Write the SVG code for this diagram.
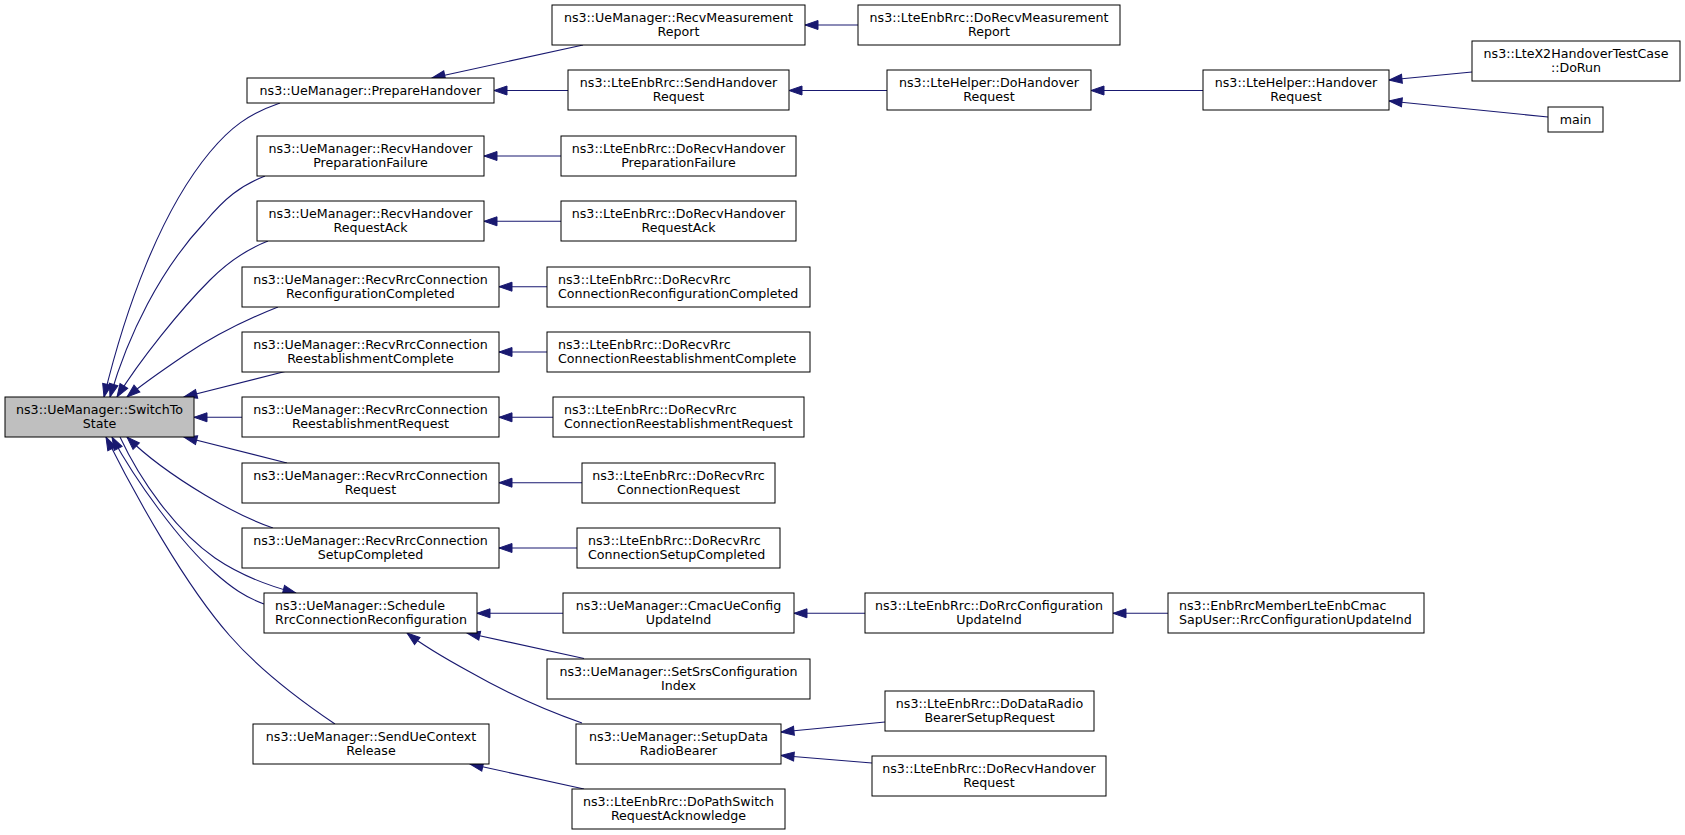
<svg xmlns="http://www.w3.org/2000/svg" width="1685" height="835" viewBox="0 0 1685 835">
<defs>
<style>
.node rect{fill:#fff;stroke:#000;stroke-width:1}
.node rect.hl{fill:#bfbfbf}
.node text{font-family:"DejaVu Sans",sans-serif;font-size:12.65px;fill:#000}
.c{text-anchor:middle}
.l{text-anchor:start}
.edge path{fill:none;stroke:#191970;stroke-width:1.1;marker-end:url(#ah)}
</style>
<marker id="ah" markerUnits="userSpaceOnUse" markerWidth="15" markerHeight="11" refX="14" refY="5.5" orient="auto" overflow="visible">
<path d="M1,1 L14,5.5 L1,10 Z" fill="#191970" stroke="#191970" stroke-width="1"/>
</marker>
</defs>
<rect x="0" y="0" width="1685" height="835" fill="#fff"/>
<g id="edges" class="edge">
<path d="M583,45 L432,78"/>
<path d="M568,90.5 L494,90.5"/>
<path d="M858,25 L805,25"/>
<path d="M887,90.5 L789,90.5"/>
<path d="M1203,90.5 L1091,90.5"/>
<path d="M1472,72 L1389,80"/>
<path d="M1548,117 L1389,101"/>
<path d="M561,156 L484,156"/>
<path d="M561,221.3 L484,221.3"/>
<path d="M547,286.7 L499,286.7"/>
<path d="M547,352 L499,352"/>
<path d="M553,417.3 L499,417.3"/>
<path d="M582,482.7 L499,482.7"/>
<path d="M577,548 L499,548"/>
<path d="M563,613.3 L477,613.3"/>
<path d="M584,658.5 L467,633"/>
<path d="M582,723 C545,710 505,692 470,672 C448,660 425,647 407,633"/>
<path d="M885,722 L781,732"/>
<path d="M872,763 L781,755.5"/>
<path d="M865,613.3 L794,613.3"/>
<path d="M1168,613.3 L1113,613.3"/>
<path d="M584,789 L470,764"/>
<path d="M242,417.3 L194,417.3"/>
<path d="M280,103 C248,114 230,128 210,152 C160,212 125,310 104,397"/>
<path d="M265,176 C240,186 225,198 205,222 C160,270 128,335 110,397"/>
<path d="M268,241 C245,250 228,262 210,280 C180,310 140,360 117,397"/>
<path d="M278,307 C245,320 215,335 185,355 C160,372 140,386 127,397"/>
<path d="M287,371 L184,397"/>
<path d="M287,463 L184,437"/>
<path d="M273,528 C250,520 230,510 205,495 C175,477 150,460 127,437"/>
<path d="M264,604 C245,597 232,588 215,573 C180,542 135,480 112,437"/>
<path d="M120,437 C140,480 175,530 215,558 C240,575 265,585 296,593"/>
<path d="M335,724 C295,697 258,668 230,636 C185,585 135,495 106,437"/>
</g>
<g id="n_switch" class="node"><rect class="hl" x="5" y="397" width="189" height="40"/><text class="c" x="99.5" y="414">ns3::UeManager::SwitchTo</text><text class="c" x="99.5" y="428.3">State</text></g>
<g id="n_prep" class="node"><rect x="247" y="78" width="247" height="25"/><text class="c" x="370.5" y="94.6">ns3::UeManager::PrepareHandover</text></g>
<g id="n_prepfail" class="node"><rect x="257" y="136" width="227" height="40"/><text class="c" x="370.5" y="152.8">ns3::UeManager::RecvHandover</text><text class="c" x="370.5" y="167">PreparationFailure</text></g>
<g id="n_reqack" class="node"><rect x="257" y="201" width="227" height="40"/><text class="c" x="370.5" y="218">ns3::UeManager::RecvHandover</text><text class="c" x="370.5" y="232.3">RequestAck</text></g>
<g id="n_reconf" class="node"><rect x="242" y="267" width="257" height="40"/><text class="c" x="370.5" y="283.5">ns3::UeManager::RecvRrcConnection</text><text class="c" x="370.5" y="297.7">ReconfigurationCompleted</text></g>
<g id="n_reestc" class="node"><rect x="242" y="332" width="257" height="40"/><text class="c" x="370.5" y="348.8">ns3::UeManager::RecvRrcConnection</text><text class="c" x="370.5" y="363">ReestablishmentComplete</text></g>
<g id="n_reestr" class="node"><rect x="242" y="397" width="257" height="40"/><text class="c" x="370.5" y="414">ns3::UeManager::RecvRrcConnection</text><text class="c" x="370.5" y="428.3">ReestablishmentRequest</text></g>
<g id="n_req" class="node"><rect x="242" y="463" width="257" height="40"/><text class="c" x="370.5" y="479.5">ns3::UeManager::RecvRrcConnection</text><text class="c" x="370.5" y="493.7">Request</text></g>
<g id="n_setup" class="node"><rect x="242" y="528" width="257" height="40"/><text class="c" x="370.5" y="544.8">ns3::UeManager::RecvRrcConnection</text><text class="c" x="370.5" y="559">SetupCompleted</text></g>
<g id="n_sched" class="node"><rect x="264" y="593" width="213" height="40"/><text class="l" x="275" y="610">ns3::UeManager::Schedule</text><text class="l" x="275" y="624.3">RrcConnectionReconfiguration</text></g>
<g id="n_sendue" class="node"><rect x="253" y="724" width="236" height="40"/><text class="c" x="371" y="740.8">ns3::UeManager::SendUeContext</text><text class="c" x="371" y="755">Release</text></g>
<g id="n_recvmeas" class="node"><rect x="552" y="5" width="253" height="40"/><text class="c" x="678.5" y="21.8">ns3::UeManager::RecvMeasurement</text><text class="c" x="678.5" y="36">Report</text></g>
<g id="n_sendho" class="node"><rect x="568" y="70" width="221" height="40"/><text class="c" x="678.5" y="87">ns3::LteEnbRrc::SendHandover</text><text class="c" x="678.5" y="101.3">Request</text></g>
<g id="n_dprepfail" class="node"><rect x="561" y="136" width="235" height="40"/><text class="c" x="678.5" y="152.8">ns3::LteEnbRrc::DoRecvHandover</text><text class="c" x="678.5" y="167">PreparationFailure</text></g>
<g id="n_dreqack" class="node"><rect x="561" y="201" width="235" height="40"/><text class="c" x="678.5" y="218">ns3::LteEnbRrc::DoRecvHandover</text><text class="c" x="678.5" y="232.3">RequestAck</text></g>
<g id="n_dreconf" class="node"><rect x="547" y="267" width="263" height="40"/><text class="l" x="558" y="283.5">ns3::LteEnbRrc::DoRecvRrc</text><text class="l" x="558" y="297.7">ConnectionReconfigurationCompleted</text></g>
<g id="n_dreestc" class="node"><rect x="547" y="332" width="263" height="40"/><text class="l" x="558" y="348.8">ns3::LteEnbRrc::DoRecvRrc</text><text class="l" x="558" y="363">ConnectionReestablishmentComplete</text></g>
<g id="n_dreestr" class="node"><rect x="553" y="397" width="251" height="40"/><text class="l" x="564" y="414">ns3::LteEnbRrc::DoRecvRrc</text><text class="l" x="564" y="428.3">ConnectionReestablishmentRequest</text></g>
<g id="n_dreq" class="node"><rect x="582" y="463" width="193" height="40"/><text class="c" x="678.5" y="479.5">ns3::LteEnbRrc::DoRecvRrc</text><text class="c" x="678.5" y="493.7">ConnectionRequest</text></g>
<g id="n_dsetup" class="node"><rect x="577" y="528" width="203" height="40"/><text class="l" x="588" y="544.8">ns3::LteEnbRrc::DoRecvRrc</text><text class="l" x="588" y="559">ConnectionSetupCompleted</text></g>
<g id="n_cmac" class="node"><rect x="563" y="593" width="231" height="40"/><text class="c" x="678.5" y="610">ns3::UeManager::CmacUeConfig</text><text class="c" x="678.5" y="624.3">UpdateInd</text></g>
<g id="n_srs" class="node"><rect x="547" y="659" width="263" height="40"/><text class="c" x="678.5" y="675.5">ns3::UeManager::SetSrsConfiguration</text><text class="c" x="678.5" y="689.7">Index</text></g>
<g id="n_setupdrb" class="node"><rect x="576" y="724" width="205" height="40"/><text class="c" x="678.5" y="740.8">ns3::UeManager::SetupData</text><text class="c" x="678.5" y="755">RadioBearer</text></g>
<g id="n_pathsw" class="node"><rect x="572" y="789" width="213" height="40"/><text class="c" x="678.5" y="806">ns3::LteEnbRrc::DoPathSwitch</text><text class="c" x="678.5" y="820.3">RequestAcknowledge</text></g>
<g id="n_drecvmeas" class="node"><rect x="858" y="5" width="262" height="40"/><text class="c" x="989" y="21.8">ns3::LteEnbRrc::DoRecvMeasurement</text><text class="c" x="989" y="36">Report</text></g>
<g id="n_doho" class="node"><rect x="887" y="70" width="204" height="40"/><text class="c" x="989" y="87">ns3::LteHelper::DoHandover</text><text class="c" x="989" y="101.3">Request</text></g>
<g id="n_drrccfg" class="node"><rect x="865" y="593" width="248" height="40"/><text class="c" x="989" y="610">ns3::LteEnbRrc::DoRrcConfiguration</text><text class="c" x="989" y="624.3">UpdateInd</text></g>
<g id="n_ddrb" class="node"><rect x="885" y="691" width="209" height="40"/><text class="c" x="989.5" y="707.8">ns3::LteEnbRrc::DoDataRadio</text><text class="c" x="989.5" y="722">BearerSetupRequest</text></g>
<g id="n_drecvho" class="node"><rect x="872" y="756" width="234" height="40"/><text class="c" x="989" y="772.8">ns3::LteEnbRrc::DoRecvHandover</text><text class="c" x="989" y="787">Request</text></g>
<g id="n_horeq" class="node"><rect x="1203" y="70" width="186" height="40"/><text class="c" x="1296" y="87">ns3::LteHelper::Handover</text><text class="c" x="1296" y="101.3">Request</text></g>
<g id="n_enbrrc" class="node"><rect x="1168" y="593" width="256" height="40"/><text class="l" x="1179" y="610">ns3::EnbRrcMemberLteEnbCmac</text><text class="l" x="1179" y="624.3">SapUser::RrcConfigurationUpdateInd</text></g>
<g id="n_dorun" class="node"><rect x="1472" y="41" width="208" height="40"/><text class="c" x="1576" y="57.8">ns3::LteX2HandoverTestCase</text><text class="c" x="1576" y="72">::DoRun</text></g>
<g id="n_main" class="node"><rect x="1548" y="107" width="55" height="25"/><text class="c" x="1575.5" y="124">main</text></g>
</svg>
